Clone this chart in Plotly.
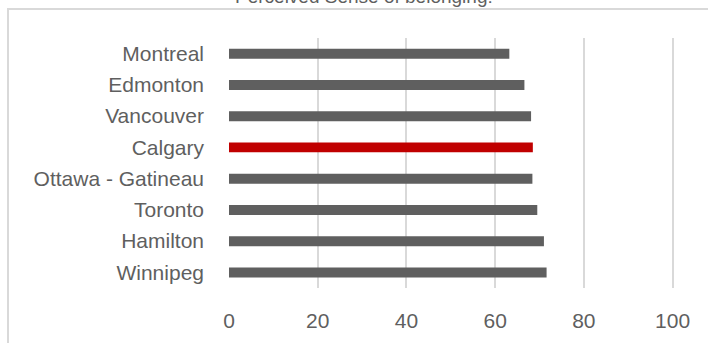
import plotly.graph_objects as go

cities = ["Montreal", "Edmonton", "Vancouver", "Calgary", "Ottawa - Gatineau",
          "Toronto", "Hamilton", "Winnipeg"]
values = [63.2, 66.6, 68.1, 68.5, 68.4, 69.5, 71.0, 71.6]
highlight = "Calgary"
x_ticks = [0, 20, 40, 60, 80, 100]
title_text = "Perceived Sense of belonging:"

colors = ["#C00000" if c == highlight else "#5F5F5F" for c in cities]

W, H = 708, 343
L, R, T, B = 229, 31, 38, 55
pw, ph = W - L - R, H - T - B

def px_x(x):
    return (x - L) / pw

def px_y(y):
    return 1 + (T - y) / ph

fig = go.Figure(go.Bar(
    x=values, y=cities, orientation="h",
    marker=dict(color=colors, line=dict(width=0)),
    hoverinfo="x+y",
))

label_font = dict(family="Liberation Sans Narrow, Arial Narrow, Liberation Sans, sans-serif",
                  size=21, color="#5F5F5F")

fig.update_layout(
    width=W, height=H,
    margin=dict(l=L, r=R, t=T, b=B, pad=0),
    paper_bgcolor="white", plot_bgcolor="white",
    bargap=0.68,
    showlegend=False,
    xaxis=dict(range=[0, 101], tickvals=x_ticks, showgrid=True, gridcolor="#D9D9D9",
               gridwidth=2, zeroline=False, showline=False, ticks="",
               tickfont=label_font, ticklabelstandoff=18, fixedrange=True),
    yaxis=dict(autorange="reversed", showgrid=False, zeroline=False, showline=False,
               ticks="", tickfont=label_font, ticklabelstandoff=24, fixedrange=True),
    shapes=[dict(type="rect", xref="paper", yref="paper",
                 x0=px_x(8), x1=px_x(W + 50), y0=px_y(H + 50), y1=px_y(9),
                 line=dict(color="#D9D9D9", width=2), fillcolor="rgba(0,0,0,0)", layer="below")],
    annotations=[dict(text=title_text, xref="paper", yref="paper",
                      x=px_x(364), y=px_y(-4), xanchor="center", yanchor="middle",
                      showarrow=False,
                      font=dict(family="Liberation Sans, Arial, sans-serif", size=19, color="#5F5F5F"))],
)

fig.write_html("out.html")
